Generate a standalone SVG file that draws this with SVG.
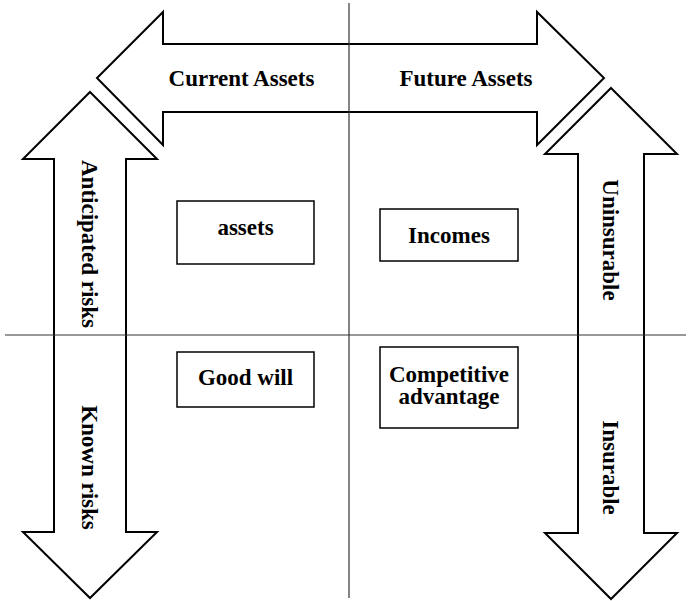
<svg xmlns="http://www.w3.org/2000/svg" width="691" height="601" viewBox="0 0 691 601">
<style>
.arrow{fill:#fff;stroke:#000;stroke-width:2;stroke-linejoin:miter}
.box{fill:#fff;stroke:#000;stroke-width:1.5}
.axis{stroke:#333;stroke-width:1.2;fill:none}
text{font-family:"Liberation Serif","Times New Roman",serif;font-weight:bold;font-size:23px;fill:#000;text-anchor:middle}
</style>
<rect width="691" height="601" fill="#fff"/>
<g id="arrow-left">
<polygon class="arrow" points="90,92 157,159 126,159 126,532 157,532 90,598 23,532 54,532 54,159 23,159"/>
<text transform="translate(82,244) rotate(90)">Anticipated risks</text>
<text transform="translate(82,467.5) rotate(90)">Known risks</text>
</g>
<g id="arrow-right">
<polygon class="arrow" points="611,88 677,154 644,154 644,533 677,533 611,599 545,533 578,533 578,154 545,154"/>
<text transform="translate(603,240) rotate(90)">Uninsurable</text>
<text transform="translate(603,467.5) rotate(90)">Insurable</text>
</g>
<g id="arrow-top">
<polygon class="arrow" points="97,78 163,12 163,44 537,44 537,12 604,78 537,145 537,112 163,112 163,145"/>
<text x="241.5" y="86">Current Assets</text>
<text x="466" y="86">Future Assets</text>
</g>
<g id="connectors">
<line class="axis" x1="349" y1="3" x2="349" y2="598"/>
<line class="axis" x1="5" y1="335" x2="686" y2="335"/>
</g>
<g id="node-assets">
<rect class="box" x="177" y="201" width="137" height="63"/>
<text x="245.5" y="235">assets</text>
</g>
<g id="node-incomes">
<rect class="box" x="380" y="209" width="138" height="52"/>
<text x="449" y="243">Incomes</text>
</g>
<g id="node-goodwill">
<rect class="box" x="177" y="352" width="137" height="55"/>
<text x="245.5" y="385">Good will</text>
</g>
<g id="node-competitive">
<rect class="box" x="380" y="347" width="138" height="81"/>
<text x="449" y="382">Competitive</text>
<text x="449" y="404">advantage</text>
</g>
</svg>
